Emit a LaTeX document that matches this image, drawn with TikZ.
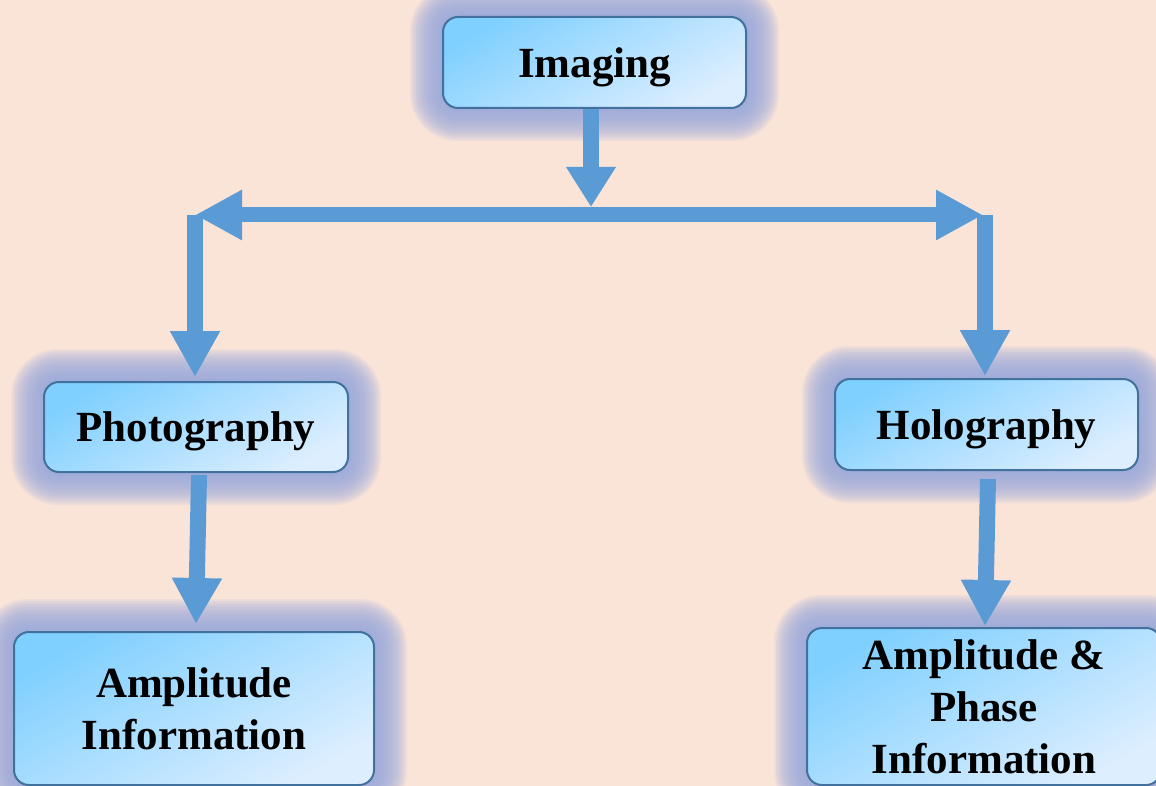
\documentclass[tikz,border=0pt]{standalone}
\usepackage{fontspec}
\setmainfont{Liberation Serif}
\usetikzlibrary{arrows.meta,fit,calc}
\definecolor{bgc}{HTML}{FAE4D7}
\definecolor{glowc}{HTML}{9AAAE0}
\definecolor{arrowc}{HTML}{5B9BD5}
\definecolor{borderc}{HTML}{41719C}
\definecolor{boxtop}{HTML}{80D0FF}
\definecolor{boxbot}{HTML}{DCEEFF}
\pgfdeclarelayer{bgzero}
\pgfdeclarelayer{bgone}
\pgfsetlayers{bgzero,bgone,main}
\tikzset{
  box/.style={rectangle, rounded corners=15pt, draw=borderc, line width=2pt,
    top color=boxtop, bottom color=boxbot, shading angle=30,
    inner sep=0pt, align=center, text depth=0pt,
    font=\fontsize{43pt}{52pt}\selectfont\bfseries},
  glowlayer/.style={rectangle, fill=glowc, fill opacity=0.13, draw=none},
  arr/.style={draw=arrowc, fill=arrowc, line width=16pt,
    -{Triangle[width=47pt,length=46pt]}},
  dblarr/.style={draw=arrowc, fill=arrowc, line width=15pt,
    {Triangle[width=47pt,length=47pt]}-{Triangle[width=47pt,length=47pt]}}
}
\begin{document}
\begin{tikzpicture}[x=1pt,y=-1pt]
\useasboundingbox (0,0) rectangle (1156,786);
\begin{pgfonlayer}{bgzero}
\fill[bgc] (0,0) rectangle (1156,786);
\end{pgfonlayer}

\node[box, minimum width=303pt, minimum height=91pt] (img) at (594.5,62.5) {Imaging};
\node[box, minimum width=304pt, minimum height=90pt] (photo) at (196,427) {Photography};
\node[box, minimum width=303pt, minimum height=91pt] (holo) at (986.5,424.5) {Holography};
\node[box, minimum width=360pt, minimum height=153pt] (amp) at (194,708.5) {Amplitude\\Information};
\node[box, minimum width=354pt, minimum height=157pt] (ampph) at (984,706.5) {Amplitude \&\\Phase\\Information};

\begin{pgfonlayer}{bgone}
\foreach \n in {img,photo,holo,amp,ampph}{
  \foreach \k in {2,4,...,32}{
    \node[glowlayer, fit=(\n), inner sep=\k pt, rounded corners=15+\k] (g-\n-\k) {};
  }
}
\end{pgfonlayer}

\coordinate (split) at (591,207);
\coordinate (hl) at (195,215);
\coordinate (hr) at (985,215);

\draw[draw=arrowc, fill=arrowc, line width=16pt,
  -{Triangle[width=47pt,length=40pt]}] (img.south -| split) -- (split);
\draw[dblarr] (hl) -- ($(hr)+(-2,0)$);
\draw[arr] (hl) -- ($(hl |- photo.north)+(0,-4)$);
\draw[arr] (hr) -- ($(hr |- holo.north)+(0,-2)$);
\draw[arr] ($(photo.south)+(3,2)$) -- ($(amp.north)+(2,-7)$);
\draw[arr] ($(holo.south)+(1.5,8)$) -- ($(ampph.north)+(1,-1)$);
\end{tikzpicture}
\end{document}
